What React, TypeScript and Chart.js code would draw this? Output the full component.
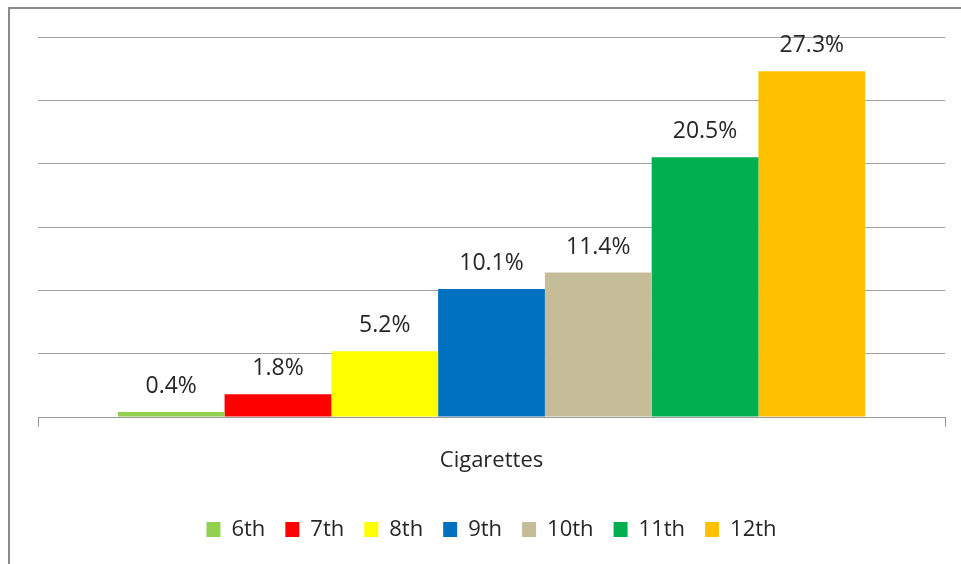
import React, { useEffect, useRef } from "react";
import { Chart, registerables } from "chart.js";

Chart.register(...registerables);

const categories = ["Cigarettes"];
const grades = ["6th", "7th", "8th", "9th", "10th", "11th", "12th"];
const values = [0.4, 1.8, 5.2, 10.1, 11.4, 20.5, 27.3];
const colors = ["#92D050", "#FF0000", "#FFFF00", "#0070C0", "#C4BD97", "#00B050", "#FFC000"];
const yMin = 0;
const yMax = 30;
const yStep = 5;

const FONT = "'Open Sans', 'Noto Sans', sans-serif";
const TEXT = "#262626";

const barLabels = {
  id: "barLabels",
  afterDatasetsDraw(chart: any) {
    const ctx = chart.ctx;
    ctx.save();
    ctx.font = `23px ${FONT}`;
    ctx.fillStyle = TEXT;
    ctx.textAlign = "center";
    ctx.textBaseline = "alphabetic";
    chart.data.datasets.forEach((ds: any, i: number) => {
      const meta = chart.getDatasetMeta(i);
      meta.data.forEach((el: any, j: number) => {
        const v = ds.data[j];
        ctx.fillText(v.toFixed(1) + "%", el.x, el.y - 19);
      });
    });
    ctx.restore();
  },
};

export default function App() {
  const ref = useRef<HTMLCanvasElement | null>(null);

  useEffect(() => {
    if (!ref.current) return;
    const chart = new Chart(ref.current, {
      type: "bar",
      data: {
        labels: categories,
        datasets: grades.map((g, i) => ({
          label: g,
          data: [values[i]],
          backgroundColor: colors[i],
          borderWidth: 0,
          categoryPercentage: 0.824,
          barPercentage: 1,
        })),
      },
      options: {
        animation: false,
        responsive: false,
        maintainAspectRatio: false,
        layout: { padding: { left: 38, right: 16, top: 37, bottom: 13.5 } },
        plugins: {
          tooltip: { enabled: false },
          legend: {
            position: "bottom",
            labels: {
              boxWidth: 14,
              boxHeight: 15,
              padding: 20,
              color: TEXT,
              font: { family: FONT, size: 22 },
            },
          },
        },
        scales: {
          x: {
            grid: {
              offset: true,
              drawOnChartArea: false,
              drawTicks: true,
              tickLength: 10,
              color: "#999999",
            },
            border: { display: true, color: "#999999", width: 1 },
            ticks: { display: false },
            title: {
              display: true,
              text: categories[0],
              color: TEXT,
              font: { family: FONT, size: 22 },
              padding: { top: 20.8, bottom: 24.3 },
            },
          },
          y: {
            min: yMin,
            max: yMax,
            ticks: { display: false, stepSize: yStep },
            grid: { drawTicks: false, color: "#a0a0a0", lineWidth: 1 },
            border: { display: false },
          },
        },
      },
      plugins: [barLabels],
    });
    return () => chart.destroy();
  }, []);

  return (
    <div style={{ position: "fixed", left: 0, top: 0, width: 961, height: 564, overflow: "hidden", background: "#ffffff" }}>
      <div
        style={{
          position: "absolute",
          left: 8,
          top: 7,
          width: 1000,
          height: 600,
          borderLeft: "2px solid #8a8a8a",
          borderTop: "2px solid #8a8a8a",
        }}
      />
      <canvas ref={ref} width={961} height={564} style={{ position: "absolute", left: 0, top: 0, width: 961, height: 564 }} />
    </div>
  );
}
